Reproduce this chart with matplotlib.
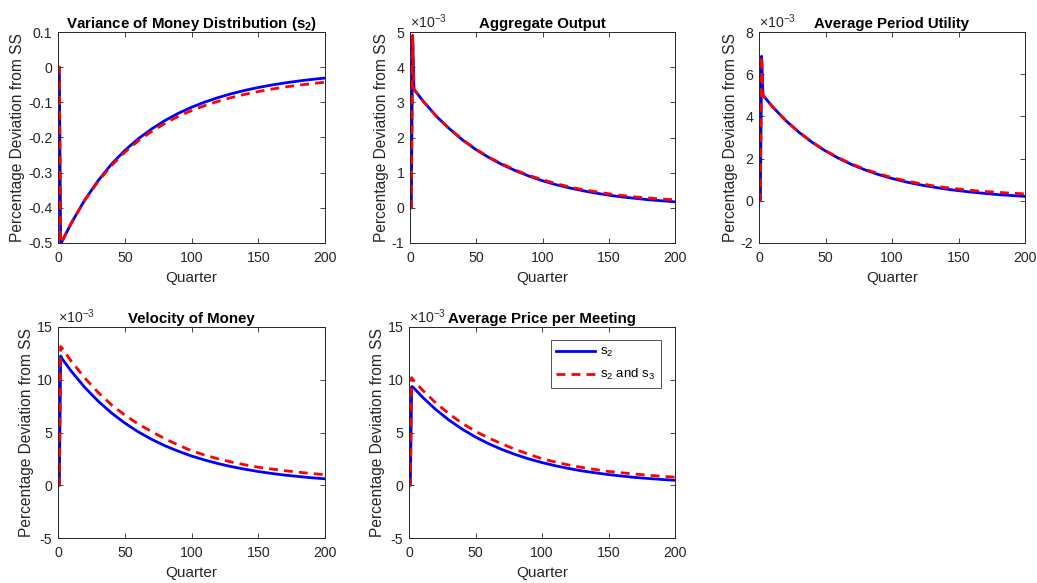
import matplotlib
matplotlib.use("Agg")
import matplotlib.pyplot as plt

plt.rcParams['font.family'] = ['Liberation Sans', 'DejaVu Sans']
plt.rcParams['mathtext.fontset'] = 'custom'
plt.rcParams['mathtext.rm'] = 'Liberation Sans'
plt.rcParams['mathtext.it'] = 'Liberation Sans'
plt.rcParams['mathtext.bf'] = 'Liberation Sans:bold'
plt.rcParams['axes.unicode_minus'] = False

# ---------------- data ----------------
quarter = [0, 1, 2, 3, 10, 20, 30, 40, 50, 60, 70, 80, 90, 100,
           110, 120, 130, 140, 150, 160, 170, 180, 190, 200]

var_s2 = [0, 0, -0.5, -0.496, -0.443, -0.378, -0.323, -0.276, -0.237, -0.204,
          -0.176, -0.152, -0.1315, -0.114, -0.0992, -0.0864, -0.0754, -0.066,
          -0.0578, -0.0508, -0.0448, -0.0395, -0.0349, -0.031]
var_s23 = [0, 0, -0.5, -0.496, -0.443, -0.379, -0.325, -0.280, -0.242, -0.210,
           -0.183, -0.160, -0.140, -0.1234, -0.1092, -0.0969, -0.0863, -0.0772,
           -0.0693, -0.0625, -0.0565, -0.0513, -0.0468, -0.0428]

out_s2 = [0, 0, 4.9, 3.37, 3.03, 2.60, 2.24, 1.92, 1.65, 1.42, 1.22, 1.05, 0.90,
          0.77, 0.66, 0.57, 0.49, 0.42, 0.36, 0.31, 0.27, 0.23, 0.20, 0.17]
out_s23 = [0, 0, 4.9, 3.37, 3.03, 2.60, 2.24, 1.93, 1.66, 1.43, 1.24, 1.07, 0.92,
           0.80, 0.69, 0.60, 0.52, 0.46, 0.40, 0.35, 0.31, 0.28, 0.25, 0.23]

util_s2 = [0, 0, 6.85, 5.00, 4.47, 3.81, 3.25, 2.77, 2.36, 2.01, 1.71, 1.46, 1.24,
           1.06, 0.90, 0.77, 0.66, 0.56, 0.48, 0.41, 0.35, 0.29, 0.25, 0.21]
util_s23 = [0, 0, 6.85, 5.00, 4.47, 3.81, 3.26, 2.78, 2.38, 2.03, 1.74, 1.49, 1.28,
            1.10, 0.95, 0.83, 0.72, 0.63, 0.56, 0.49, 0.44, 0.40, 0.36, 0.33]

vel_s2 = [0, 0, 12.25, 12.0, 10.80, 9.28, 7.98, 6.86, 5.90, 5.07, 4.36, 3.75, 3.23,
          2.77, 2.39, 2.05, 1.76, 1.52, 1.30, 1.12, 0.96, 0.83, 0.71, 0.61]
vel_s23 = [0, 0, 13.15, 13.0, 11.75, 10.17, 8.81, 7.63, 6.65, 5.81, 5.10, 4.41, 3.82,
           3.27, 2.86, 2.50, 2.20, 1.94, 1.71, 1.54, 1.38, 1.24, 1.11, 1.00]

price_s2 = [0, 0, 9.35, 9.30, 8.37, 7.19, 6.18, 5.32, 4.57, 3.93, 3.38, 2.91, 2.50,
            2.15, 1.85, 1.59, 1.36, 1.18, 1.01, 0.87, 0.74, 0.64, 0.55, 0.47]
price_s23 = [0, 0, 10.2, 10.0, 9.04, 7.82, 6.78, 5.87, 5.11, 4.47, 3.92, 3.39, 2.94,
             2.51, 2.20, 1.92, 1.69, 1.49, 1.31, 1.18, 1.06, 0.95, 0.85, 0.77]

titles = ['Variance of Money Distribution (s$_\\mathbf{2}$)', 'Aggregate Output',
          'Average Period Utility', 'Velocity of Money', 'Average Price per Meeting']
ylims = [(-0.5, 0.1), (-1, 5), (-2, 8), (-5, 15), (-5, 15)]
yticks = [[-0.5, -0.4, -0.3, -0.2, -0.1, 0, 0.1], [-1, 0, 1, 2, 3, 4, 5],
          [-2, 0, 2, 4, 6, 8], [-5, 0, 5, 10, 15], [-5, 0, 5, 10, 15]]
ytick_labels = [['-0.5', '-0.4', '-0.3', '-0.2', '-0.1', '0', '0.1'],
                ['-1', '0', '1', '2', '3', '4', '5'],
                ['-2', '0', '2', '4', '6', '8'],
                ['-5', '0', '5', '10', '15'],
                ['-5', '0', '5', '10', '15']]
xticks = [0, 50, 100, 150, 200]
scaled = [False, True, True, True, True]
series = [(var_s2, var_s23), (out_s2, out_s23), (util_s2, util_s23),
          (vel_s2, vel_s23), (price_s2, price_s23)]

# ---------------- layout ----------------
W, H = 1037, 583
fig = plt.figure(figsize=(W / 100, H / 100), dpi=100)
boxes = [(58, 32, 325, 243), (410, 32, 675, 243), (759, 32, 1025, 243),
         (58, 327, 325, 538), (409, 327, 675, 538)]

axcol = '#262626'
for i, (x0, y0, x1, y1) in enumerate(boxes):
    ax = fig.add_axes([x0 / W, 1 - y1 / H, (x1 - x0) / W, (y1 - y0) / H])
    s2, s23 = series[i]
    ax.plot(quarter, s2, color='#0000ff', lw=2.0, label='s$_2$')
    ax.plot(quarter, s23, color='#ff0000', lw=2.0, ls=(0, (3.2, 2.2)),
            label='s$_2$ and s$_3$')
    ax.set_xlim(0, 200)
    ax.set_ylim(*ylims[i])
    ax.set_xticks(xticks)
    ax.set_xticklabels([str(v) for v in xticks])
    ax.set_yticks(yticks[i])
    ax.set_yticklabels(ytick_labels[i])
    ax.tick_params(direction='in', length=3.5, width=0.6, colors=axcol,
                   labelsize=10.2, labelcolor=axcol, top=True, right=True, pad=4)
    ax.tick_params(axis='x', pad=6)
    for sp in ax.spines.values():
        sp.set_color(axcol)
        sp.set_linewidth(0.7)
    ax.set_xlabel('Quarter', fontsize=11, color=axcol, labelpad=4)
    ax.set_ylabel('Percentage Deviation from SS', fontsize=11.2, color=axcol,
                  labelpad=2)
    ax.set_title(titles[i], fontsize=10.8, fontweight='bold', pad=3)
    if scaled[i]:
        ax.text(0.0, 1.004, '$\\times10^{-3}$', transform=ax.transAxes,
                fontsize=10.2, color=axcol, ha='left', va='bottom')
    if i == 4:
        leg = ax.legend(loc='upper right', bbox_to_anchor=(0.948, 0.938),
                        fontsize=9.5, handlelength=2.9, frameon=True,
                        fancybox=False, borderpad=0.45, labelspacing=0.6,
                        handletextpad=0.4, borderaxespad=0)
        leg.get_frame().set_edgecolor(axcol)
        leg.get_frame().set_linewidth(0.7)

fig.savefig('out.png', dpi=100)
